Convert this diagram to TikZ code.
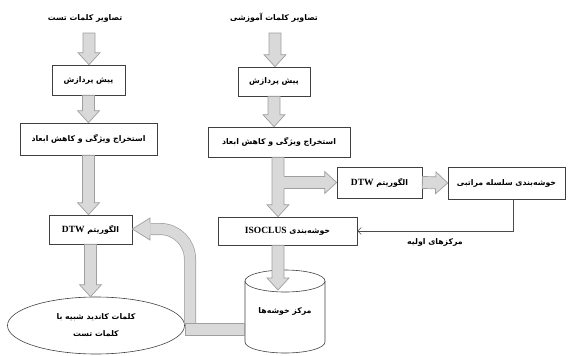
\documentclass[tikz,border=0pt]{standalone}
\usepackage{fontspec}
\setmainfont{Liberation Serif}
\newfontfamily\fafont[Script=Arabic]{DejaVu Sans}
\TeXXeTstate=1
\usetikzlibrary{calc,shapes.geometric,arrows.meta}
\newcommand{\fatxt}[1]{{\fafont\bfseries\fontsize{7.8}{9}\selectfont\beginR #1\endR}}
\newcommand{\lat}[1]{\beginL{\rmfamily\bfseries\fontsize{9.5}{12}\selectfont #1}\endL}
\begin{document}
\begin{tikzpicture}[x=1pt,y=-1pt,
  box/.style={draw=black!75, line width=0.6pt, fill=white, inner sep=0pt},
  fatbody/.style={draw=gray!75, fill=gray!30, line width=0.7pt, line join=miter},
  fatto/.style={to path={
    ($(\tikztostart)!6pt!90:(\tikztotarget)$) --
    ($(\tikztotarget)!12pt!(\tikztostart)!6pt!-90:(\tikztostart)$) --
    ($(\tikztotarget)!12pt!(\tikztostart)!11pt!-90:(\tikztostart)$) --
    (\tikztotarget) --
    ($(\tikztotarget)!12pt!(\tikztostart)!11pt!90:(\tikztostart)$) --
    ($(\tikztotarget)!12pt!(\tikztostart)!6pt!90:(\tikztostart)$) --
    ($(\tikztostart)!6pt!-90:(\tikztotarget)$) -- cycle}},
  conn/.style={draw=black!70, line width=0.5pt, -{Straight Barb[length=3.5pt,width=7pt]}}
]
\useasboundingbox (0,0) rectangle (571,356);

% labels
\node (lbl1) at (85,18) {\fatxt{تصاویر کلمات تست}};
\node (lbl2) at (274,18) {\fatxt{تصاویر کلمات آموزشی}};

% left column
\node[box, minimum width=73pt, minimum height=30pt] (pre1) at (88.5,80) {\fatxt{پیش پردازش}};
\node[box, minimum width=137pt, minimum height=32pt] (ext1) at (88.5,139) {\fatxt{استخراج ویژگی و کاهش ابعاد}};
\node[box, minimum width=83pt, minimum height=29pt] (dtw1) at (90.5,229.5) {\fatxt{الگوریتم \lat{DTW}}};
\node[ellipse, draw=black!75, line width=0.6pt, minimum width=177pt, minimum height=57pt, inner sep=0pt, align=center] (cand) at (96,325.5)
  {\raisebox{-3pt}{\fatxt{کلمات کاندید شبیه با}}\\[8pt]\fatxt{کلمات تست}};

% middle column
\node[box, minimum width=72pt, minimum height=29pt] (pre2) at (274,81.5) {\fatxt{پیش پردازش}};
\node[box, minimum width=142pt, minimum height=30pt] (ext2) at (279,142) {\fatxt{استخراج ویژگی و کاهش ابعاد}};
\node[box, minimum width=85pt, minimum height=31pt] (dtw2) at (379.5,182.5) {\fatxt{الگوریتم \lat{DTW}}};
\node[box, minimum width=117pt, minimum height=32pt] (hier) at (506.5,183) {\fatxt{خوشه‌بندی سلسله مراتبی}};
\node[box, minimum width=139pt, minimum height=28pt] (iso) at (287.5,231) {\fatxt{خوشه‌بندی \lat{ISOCLUS}}};

% cylinder
\draw[draw=black!75, line width=0.6pt, fill=white] (245,281) -- (245,342) arc[start angle=180, end angle=360, x radius=40pt, y radius=11pt] -- (325,281);
\draw[draw=black!75, line width=0.6pt, fill=white] (285,281) ellipse [x radius=40pt, y radius=11pt];
\node[minimum width=80pt, minimum height=83pt, inner sep=0pt] (cyl) at (285,311.5) {\raisebox{-4pt}{\fatxt{مرکز خوشه‌ها}}};

% label of feedback line
\node (lbl3) at (435,242) {\fatxt{مرکزهای اولیه}};

% fat arrows
\coordinate (a1) at (89,33);
\coordinate (a2) at (275,33);
\path[fatbody] (a1) to[fatto] (a1 |- pre1.north);
\path[fatbody] (a2) to[fatto] (a2 |- pre2.north);
\path[fatbody] (pre1.south) to[fatto] (pre1.south |- ext1.north);
\path[fatbody] (pre2.south) to[fatto] (pre2.south |- ext2.north);
\path[fatbody] (ext1.south) to[fatto] (ext1.south |- dtw1.north);
\path[fatbody] (dtw1.south) to[fatto] (dtw1.south |- cand.north);
\path[fatbody] ([xshift=-1pt]ext2.south) to[fatto] ([xshift=-1pt]ext2.south |- iso.north);
\path[fatbody] ([xshift=-1pt]ext2.south |- dtw2.west) to[fatto] (dtw2.west);
\fill[gray!30] (277.2,176.4) rectangle (283.6,189.0);
\path[fatbody] (dtw2.east) to[fatto] (hier.west);
\coordinate (ctip) at (278,290);
\path[fatbody] (iso.south -| ctip) to[fatto] (ctip);

% thin feedback connector
\draw[conn] ([xshift=6.5pt]hier.south) |- (iso.east);

% bent arrow from cluster centres to DTW
\coordinate (uh) at (150,229);
\fill[gray!30] ($(uh)+(0,-11)$) -- (dtw1.east |- uh) -- ($(uh)+(0,11)$) -- cycle;
\draw[gray!75, line width=12pt, rounded corners=30pt] (190,323) -- (190,229) -- (150.3,229);
\draw[gray!30, line width=10.6pt, rounded corners=30pt] (190,323) -- (190,229) -- (150.3,229);
\draw[gray!75, line width=0.7pt, line join=miter] ($(uh)+(0,-6)$) -- ($(uh)+(0,-11)$) -- (dtw1.east |- uh) -- ($(uh)+(0,11)$) -- ($(uh)+(0,6)$);
\path[fatbody] (185,323) rectangle (cyl.west |- 0,335);
\end{tikzpicture}
\end{document}
